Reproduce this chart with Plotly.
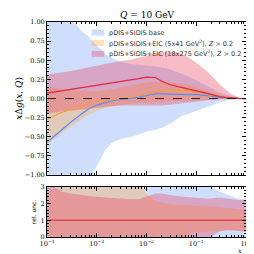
import plotly.graph_objects as go

# ---------------- data ----------------
x = [1e-4, 2e-4, 3e-4, 5e-4, 7e-4, 1e-3, 1.5e-3, 2e-3, 3e-3, 5e-3, 7e-3, 1e-2, 1.5e-2,
     2e-2, 3e-2, 5e-2, 7e-2, 0.1, 0.15, 0.2, 0.3, 0.4, 0.5, 0.7, 1.0]

base_c = [-0.57, -0.40, -0.31, -0.20, -0.13, -0.085, -0.05, -0.03, -0.012, 0.003, 0.015, 0.04, 0.06,
          0.062, 0.058, 0.05, 0.052, 0.055, 0.045, 0.03, 0.015, 0.008, 0.004, 0.001, 0.0]
base_hi = [1.5, 1.2, 1.05, 0.88, 0.8, 0.7, 0.58, 0.53, 0.48, 0.45, 0.44, 0.43, 0.42,
           0.41, 0.38, 0.33, 0.29, 0.24, 0.18, 0.14, 0.08, 0.05, 0.03, 0.01, 0.0]
base_lo = [-1.5, -1.4, -1.3, -1.2, -1.1, -0.88, -0.67, -0.58, -0.53, -0.50, -0.47, -0.43, -0.41,
           -0.385, -0.33, -0.23, -0.19, -0.16, -0.12, -0.09, -0.05, -0.03, -0.015, -0.005, 0.0]

eic5_c = [-0.27, -0.18, -0.14, -0.09, -0.065, -0.045, -0.03, -0.018, -0.002, 0.02, 0.04, 0.065, 0.085,
          0.095, 0.10, 0.10, 0.095, 0.085, 0.07, 0.05, 0.03, 0.015, 0.008, 0.002, 0.0]
eic5_hi = [0.15, 0.12, 0.11, 0.10, 0.10, 0.10, 0.11, 0.12, 0.14, 0.17, 0.19, 0.21, 0.22,
           0.23, 0.22, 0.20, 0.18, 0.15, 0.12, 0.09, 0.05, 0.03, 0.015, 0.004, 0.0]
eic5_lo = [-0.6, -0.45, -0.37, -0.27, -0.21, -0.16, -0.12, -0.10, -0.08, -0.065, -0.06, -0.055, -0.05,
           -0.045, -0.04, -0.03, -0.025, -0.02, -0.015, -0.01, -0.006, -0.004, -0.002, -0.001, 0.0]

eic18_c = [0.07, 0.10, 0.12, 0.14, 0.155, 0.17, 0.19, 0.205, 0.225, 0.245, 0.26, 0.28, 0.275,
           0.23, 0.18, 0.145, 0.12, 0.10, 0.075, 0.05, 0.025, 0.012, 0.006, 0.001, 0.0]
eic18_hi = [0.31, 0.34, 0.36, 0.39, 0.41, 0.43, 0.455, 0.47, 0.49, 0.51, 0.53, 0.56, 0.59,
            0.61, 0.61, 0.59, 0.54, 0.47, 0.38, 0.30, 0.18, 0.11, 0.06, 0.02, 0.0]
eic18_lo = [-0.2, -0.17, -0.16, -0.14, -0.13, -0.12, -0.11, -0.10, -0.09, -0.085, -0.085, -0.09, -0.09,
            -0.09, -0.08, -0.065, -0.05, -0.04, -0.03, -0.02, -0.01, -0.006, -0.003, -0.001, 0.0]

# relative uncertainty panel
rel_base_hi = [3.5] * 18 + [3.3, 3.05, 2.7, 2.55, 2.45, 2.3, 2.3]
rel_base_lo = [-0.5] * 25
rel_eic5_hi = [2.6, 3.2, 3.5, 3.5, 3.5, 3.5, 3.5, 3.5, 3.5, 3.5, 3.2, 2.6, 2.15,
               2.05, 1.95, 1.9, 1.88, 1.86, 1.86, 1.85, 1.8, 1.75, 1.7, 1.65, 1.6]
rel_eic5_lo = [-0.5] * 16 + [0.15, 0.28, 0.3, 0.32, 0.38, 0.4, 0.4, 0.38, 0.35]
rel_eic18_hi = [3.3, 2.7, 2.6, 2.5, 2.45, 2.4, 2.35, 2.32, 2.28, 2.25, 2.25, 2.4, 2.6,
                2.6, 2.5, 2.42, 2.38, 2.33, 2.3, 2.3, 2.35, 2.3, 2.25, 2.2, 2.2]
rel_eic18_lo = [-0.5] * 19 + [0.05, 0.35, 0.4, 0.4, 0.38, 0.3]
rel_center = [1.0] * 25

labels = ["pDIS+SIDIS base",
          "pDIS+SIDIS+EIC (5x41 GeV<sup>2</sup>), <i>Z</i> > 0.2",
          "pDIS+SIDIS+EIC (18x275 GeV<sup>2</sup>), <i>Z</i> > 0.2"]
xtick_vals = [1e-4, 1e-3, 1e-2, 1e-1, 1.0]
xtick_text = ["10<sup>−4</sup>", "10<sup>−3</sup>", "10<sup>−2</sup>", "10<sup>−1</sup>", "10<sup>0</sup>"]

# ---------------- style ----------------
fills = ["rgba(120,160,250,0.35)", "rgba(255,170,60,0.35)", "rgba(235,60,90,0.35)"]
lines = ["#5b8def", "#f5a030", "#e4283f"]

fig = go.Figure()

def band(xs, hi, lo, color, xaxis, yaxis):
    fig.add_trace(go.Scatter(x=xs + xs[::-1], y=hi + lo[::-1], fill="toself",
                             fillcolor=color, line=dict(width=0), mode="lines",
                             hoverinfo="skip", showlegend=False, xaxis=xaxis, yaxis=yaxis))

# top panel
for hi, lo, col in [(base_hi, base_lo, fills[0]), (eic5_hi, eic5_lo, fills[1]), (eic18_hi, eic18_lo, fills[2])]:
    band(x, hi, lo, col, "x", "y")
for c, lc in [(base_c, lines[0]), (eic5_c, lines[1]), (eic18_c, lines[2])]:
    fig.add_trace(go.Scatter(x=x, y=c, mode="lines", line=dict(color=lc, width=1.2),
                             showlegend=False, xaxis="x", yaxis="y"))

# bottom panel
for hi, lo, col in [(rel_base_hi, rel_base_lo, fills[0]), (rel_eic5_hi, rel_eic5_lo, fills[1]),
                    (rel_eic18_hi, rel_eic18_lo, fills[2])]:
    band(x, hi, lo, col, "x2", "y2")
fig.add_trace(go.Scatter(x=x, y=rel_center, mode="lines", line=dict(color="#e8464f", width=1.5),
                         showlegend=False, xaxis="x2", yaxis="y2"))

minor_x = [m * 10 ** e for e in range(-4, 0) for m in range(2, 10)]
tickfont = dict(family="DejaVu Serif", size=6.5, color="black")
common_x = dict(type="log", range=[-4, 0], showline=True, linecolor="black", linewidth=1,
                mirror="allticks", ticks="inside", ticklen=4, tickcolor="black", showgrid=False,
                zeroline=False, tickvals=xtick_vals, ticktext=xtick_text, tickfont=tickfont,
                minor=dict(tickvals=minor_x, ticks="inside", ticklen=2, tickcolor="black", showgrid=False))

fig.update_layout(
    width=254, height=254,
    margin=dict(l=39, r=10, t=14, b=25),
    paper_bgcolor="white", plot_bgcolor="white",
    showlegend=False,
    xaxis=dict(**common_x, domain=[0, 1], anchor="y", showticklabels=False, matches="x2"),
    xaxis2=dict(**common_x, domain=[0, 1], anchor="y2"),
    yaxis=dict(domain=[0.288, 1], range=[-1, 1], dtick=0.25, tickformat=".2f",
               showline=True, linecolor="black", linewidth=1, mirror="allticks",
               ticks="inside", ticklen=4, tickcolor="black", showgrid=False, zeroline=False,
               tickfont=tickfont,
               minor=dict(dtick=0.05, ticks="inside", ticklen=2, tickcolor="black", showgrid=False)),
    yaxis2=dict(domain=[0, 0.234], range=[0, 3], dtick=1,
                showline=True, linecolor="black", linewidth=1, mirror="allticks",
                ticks="inside", ticklen=4, tickcolor="black", showgrid=False, zeroline=False,
                tickfont=tickfont,
                minor=dict(dtick=0.2, ticks="inside", ticklen=2, tickcolor="black", showgrid=False)),
)

# zero dashed line
fig.add_shape(type="line", xref="paper", x0=0, x1=1, yref="y", y0=0, y1=0,
              line=dict(color="black", width=0.8, dash="dash"))

# titles
fig.add_annotation(text="<i>Q</i> = 10 GeV", xref="paper", yref="paper", x=0.5, y=1.033,
                   showarrow=False, font=dict(family="DejaVu Serif", size=9, color="black"),
                   xanchor="center", yanchor="middle")
fig.add_annotation(text="<i>x</i>Δ<i>g</i>(<i>x</i>, <i>Q</i>)", xref="paper", yref="paper",
                   x=-0.145, y=0.644, textangle=-90, showarrow=False,
                   font=dict(family="DejaVu Serif", size=9, color="black"),
                   xanchor="center", yanchor="middle")
fig.add_annotation(text="rel. unc.", xref="paper", yref="paper", x=-0.07, y=0.116, textangle=-90,
                   showarrow=False, font=dict(family="DejaVu Sans", size=6, color="black"),
                   xanchor="center", yanchor="middle")
fig.add_annotation(text="<i>x</i>", xref="paper", yref="paper", x=0.97, y=-0.065, showarrow=False,
                   font=dict(family="DejaVu Serif", size=6.5, color="black"),
                   xanchor="center", yanchor="middle")

# legend (manual)
rows = [0.951, 0.902, 0.852]
for lab, col, yy in zip(labels, fills, rows):
    fig.add_shape(type="rect", xref="paper", yref="paper", x0=0.224, x1=0.288,
                  y0=yy - 0.014, y1=yy + 0.014, fillcolor=col, line=dict(width=0))
    fig.add_annotation(text=lab, xref="paper", yref="paper", x=0.302, y=yy, showarrow=False,
                       xanchor="left", yanchor="middle",
                       font=dict(family="DejaVu Sans", size=6.5, color="#333"))

fig.write_html("out.html")
